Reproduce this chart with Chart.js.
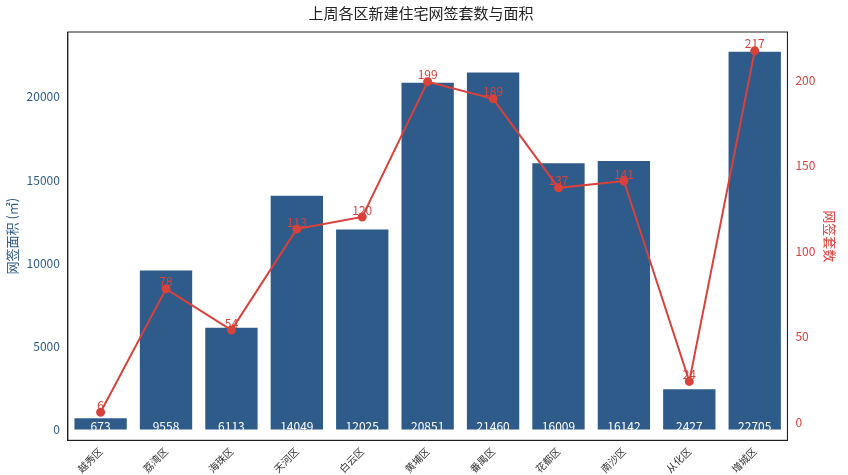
<!DOCTYPE html>
<html><head><meta charset="utf-8">
<script src="https://cdn.jsdelivr.net/npm/chart.js@4"></script>
<style>body{margin:0;background:#fff}#wrap{width:848px;height:475px}</style>
</head><body><div id="wrap"><canvas id="c"></canvas></div>
<script>
const districts = ["越秀区","荔湾区","海珠区","天河区","白云区","黄埔区","番禺区","花都区","南沙区","从化区","增城区"];
const areaValues = [673,9558,6113,14049,12025,20851,21460,16009,16142,2427,22705];
const countValues = [6,78,54,113,120,199,189,137,141,24,217];
const leftTicks = [0,5000,10000,15000,20000];
const rightTicks = [0,50,100,150,200];

const font = "'Noto Sans CJK SC', 'DejaVu Sans', sans-serif";

const labelPlugin = {
  id: "labels",
  afterDatasetsDraw(chart) {
    const ctx = chart.ctx;
    ctx.save();
    ctx.font = "12px " + font;
    ctx.textAlign = "center";
    const bars = chart.getDatasetMeta(1).data;
    ctx.fillStyle = "#ffffff";
    ctx.textBaseline = "bottom";
    bars.forEach((b, i) => ctx.fillText(areaValues[i], b.x, chart.scales.y.getPixelForValue(0) + 3));
    const pts = chart.getDatasetMeta(0).data;
    ctx.fillStyle = "#d9413b";
    pts.forEach((p, i) => ctx.fillText(countValues[i], p.x, p.y - 1));
    ctx.restore();
  }
};

const frame = {
  id: "frame",
  afterDraw(chart) {
    const a = chart.chartArea, ctx = chart.ctx;
    ctx.save();
    ctx.strokeStyle = "#222";
    ctx.lineWidth = 1;
    ctx.strokeRect(a.left, a.top, a.right - a.left, a.bottom - a.top);
    ctx.restore();
  }
};

new Chart(document.getElementById("c"), {
  data: {
    labels: districts,
    datasets: [
      {
        type: "line", label: "网签套数", data: countValues, yAxisID: "y1",
        borderColor: "#d9413b", backgroundColor: "#d9413b", borderWidth: 2,
        pointRadius: 3.5, tension: 0, order: 0
      },
      {
        type: "bar", label: "网签面积", data: areaValues, yAxisID: "y",
        backgroundColor: "#2e5b8a", categoryPercentage: 0.8, barPercentage: 1, order: 1
      }
    ]
  },
  options: {
    responsive: true, maintainAspectRatio: false, animation: false,
    layout: { padding: { left: 0, right: 6, top: 0, bottom: 0 } },
    plugins: {
      legend: { display: false }, tooltip: { enabled: false },
      title: { display: true, text: "上周各区新建住宅网签套数与面积", color: "#222",
        font: { family: font, size: 15, weight: "normal" }, padding: { top: 4, bottom: 10 } }
    },
    scales: {
      x: {
        offset: true, grid: { display: false, drawTicks: true, tickLength: 5 },
        border: { color: "#222" },
        ticks: { color: "#333", maxRotation: 45, minRotation: 45, padding: 0, font: { family: font, size: 10 } }
      },
      y: {
        position: "left", min: -650, max: 23900,
        afterBuildTicks: s => { s.ticks = leftTicks.map(v => ({ value: v })); },
        grid: { display: false, tickLength: 5, drawTicks: true }, border: { color: "#222" },
        ticks: { color: "#2e5b8a", font: { family: font, size: 12 }, callback: v => String(v) },
        title: { display: true, text: "网签面积 (㎡)", color: "#2e5b8a", font: { family: font, size: 13 } }
      },
      y1: {
        position: "right", min: -10.4, max: 228,
        afterBuildTicks: s => { s.ticks = rightTicks.map(v => ({ value: v })); },
        grid: { display: false, tickLength: 5 }, border: { color: "#222" },
        ticks: { color: "#d9413b", font: { family: font, size: 12 }, callback: v => String(v) },
        title: { display: true, text: "网签套数", color: "#d9413b", font: { family: font, size: 13 } }
      }
    }
  },
  plugins: [labelPlugin, frame]
});
</script></body></html>
